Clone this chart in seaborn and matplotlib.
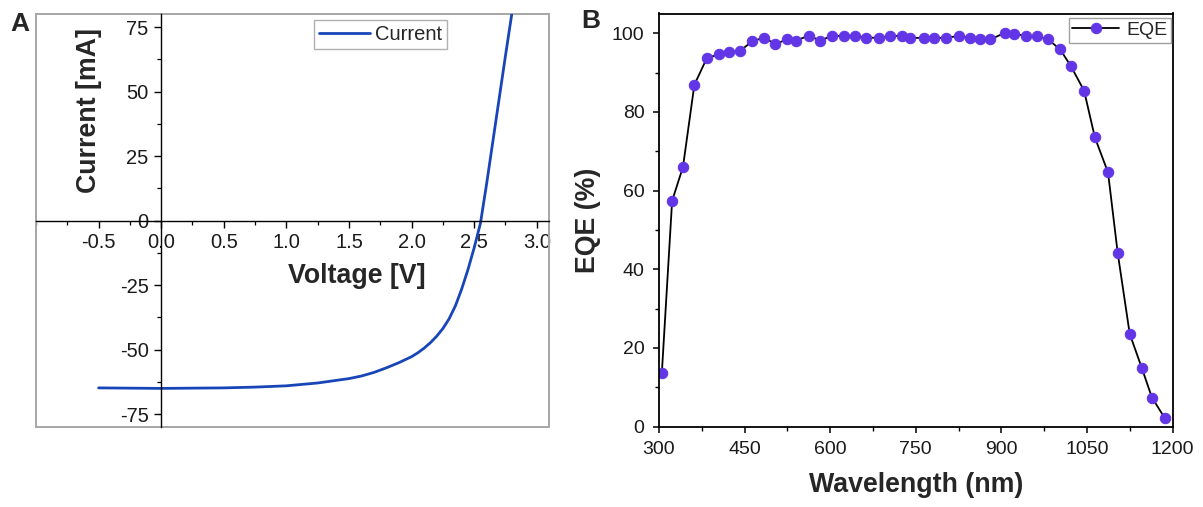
import matplotlib
matplotlib.use("Agg")
import matplotlib.pyplot as plt
from matplotlib.patches import Rectangle
from matplotlib.ticker import MultipleLocator, FormatStrFormatter
import seaborn as sns

# --- J-V curve (panel A) ---
voltage = [-0.5, -0.25, 0.0, 0.25, 0.5, 0.75, 1.0, 1.25, 1.5, 1.6, 1.7, 1.8,
           1.9, 2.0, 2.05, 2.1, 2.15, 2.2, 2.25, 2.3, 2.35, 2.4, 2.45, 2.5,
           2.55, 2.6, 2.65, 2.7, 2.75, 2.8]
current = [-64.8, -64.9, -65.0, -64.9, -64.8, -64.5, -64.0, -62.9, -61.2,
           -60.2, -58.8, -57.0, -55.0, -52.7, -51.2, -49.4, -47.3, -44.8,
           -41.8, -38.0, -33.0, -26.5, -19.0, -10.5, -1.0, 14.5, 31.0, 47.5,
           64.0, 80.0]
v_ticks = [-0.5, 0.0, 0.5, 1.0, 1.5, 2.0, 2.5, 3.0]
i_ticks = [-75, -50, -25, 0, 25, 50, 75]

# --- External quantum efficiency (panel B) ---
wavelength = [305, 323, 342, 362, 384, 405, 423, 442, 463, 484, 504, 525,
              540, 563, 582, 603, 624, 644, 663, 685, 705, 726, 740, 765,
              782, 803, 825, 845, 863, 881, 906, 923, 944, 963, 982, 1003,
              1022, 1045, 1064, 1087, 1104, 1125, 1146, 1164, 1186]
eqe = [13.7, 57.4, 66.0, 86.9, 93.7, 94.6, 95.1, 95.5, 97.9, 98.9, 97.2,
       98.5, 98.1, 99.4, 98.1, 99.3, 99.3, 99.3, 98.9, 98.8, 99.3, 99.3,
       98.8, 98.8, 98.8, 98.8, 99.3, 98.8, 98.4, 98.4, 100.1, 99.8, 99.3,
       99.3, 98.4, 95.9, 91.6, 85.4, 73.5, 64.6, 44.1, 23.6, 15.0, 7.4, 2.3]
wl_ticks = [300, 450, 600, 750, 900, 1050, 1200]
eqe_ticks = [0, 20, 40, 60, 80, 100]

sns.set_theme(style="ticks")
plt.rcParams["font.family"] = ["Liberation Sans", "DejaVu Sans"]
plt.rcParams["axes.unicode_minus"] = False

W, H = 1203, 507
fig = plt.figure(figsize=(W / 100, H / 100), dpi=100)
axA = fig.add_axes([36 / W, 1 - 427.1 / H, 513.3 / W, 412.8 / H])
axB = fig.add_axes([659 / W, 1 - 426.7 / H, 513.5 / W, 413.2 / H])

# ---------------- Panel A ----------------
sns.lineplot(x=voltage, y=current, ax=axA, color="#1846B8", linewidth=2.0,
             label="Current")
axA.set_xlim(-1.0, 3.1)
axA.set_ylim(-80, 80)
for side in ("left", "bottom"):
    axA.spines[side].set_position(("data", 0))
    axA.spines[side].set_color("black")
    axA.spines[side].set_linewidth(1.0)
for side in ("top", "right"):
    axA.spines[side].set_visible(False)
axA.add_patch(Rectangle((0, 0), 1, 1, transform=axA.transAxes, fill=False,
                        edgecolor="#a6a6a6", linewidth=1.4, clip_on=False))
axA.set_xticks(v_ticks)
axA.set_yticks(i_ticks)
axA.xaxis.set_major_formatter(FormatStrFormatter("%.1f"))
axA.xaxis.set_minor_locator(MultipleLocator(0.25))
axA.yaxis.set_minor_locator(MultipleLocator(12.5))
axA.tick_params(which="major", direction="out", length=5, width=1.0,
                labelsize=14.5, pad=4, colors="black")
axA.tick_params(which="minor", direction="out", length=3, width=0.9,
                colors="black")
axA.tick_params(axis="both", labelcolor="#1a1a1a")
axA.set_xlabel("Voltage [V]", fontsize=19.3, fontweight="bold")
axA.set_ylabel("Current [mA]", fontsize=19.3, fontweight="bold")
axA.xaxis.set_label_coords(0.6254, 0.397)
axA.yaxis.set_label_coords(0.128, 0.766)
legA = axA.legend(loc="upper right", bbox_to_anchor=(0.8007, 0.9855),
                  borderaxespad=0, fontsize=14.5, frameon=True,
                  fancybox=False, framealpha=1, edgecolor="#b0b0b0",
                  handlelength=2.5, handletextpad=0.25, borderpad=0.25)
legA.get_frame().set_linewidth(1.0)

# ---------------- Panel B ----------------
purple = "#6236E6"
sns.lineplot(x=wavelength, y=eqe, ax=axB, color="black", linewidth=1.3,
             marker="o", markersize=7.5, markerfacecolor=purple,
             markeredgecolor=purple, label="EQE")
axB.set_xlim(300, 1200)
axB.set_ylim(0, 105)
for side in axB.spines.values():
    side.set_color("black")
    side.set_linewidth(1.3)
axB.set_xticks(wl_ticks)
axB.set_yticks(eqe_ticks)
axB.xaxis.set_minor_locator(MultipleLocator(75))
axB.yaxis.set_minor_locator(MultipleLocator(10))
axB.tick_params(which="major", direction="out", length=4.5, width=1.1,
                labelsize=14, pad=6, colors="black")
axB.tick_params(which="minor", direction="out", length=2.8, width=1.0,
                colors="black")
axB.tick_params(axis="both", labelcolor="#1a1a1a")
axB.set_xlabel("Wavelength (nm)", fontsize=19.3, fontweight="bold",
               labelpad=10)
axB.set_ylabel("EQE (%)", fontsize=19.3, fontweight="bold", labelpad=8)
legB = axB.legend(loc="upper right", bbox_to_anchor=(0.997, 0.99),
                  borderaxespad=0, fontsize=14, frameon=True,
                  fancybox=False, framealpha=1, edgecolor="#a0a0a0",
                  handlelength=2.4, handletextpad=0.35, borderpad=0.2)
legB.get_frame().set_linewidth(1.0)

# Panel letters
fig.text(20 / W, 1 - 24 / H, "A", fontsize=19, fontweight="bold",
         ha="center", va="center")
fig.text(591 / W, 1 - 21 / H, "B", fontsize=19, fontweight="bold",
         ha="center", va="center")

fig.savefig("out.png", dpi=100)
